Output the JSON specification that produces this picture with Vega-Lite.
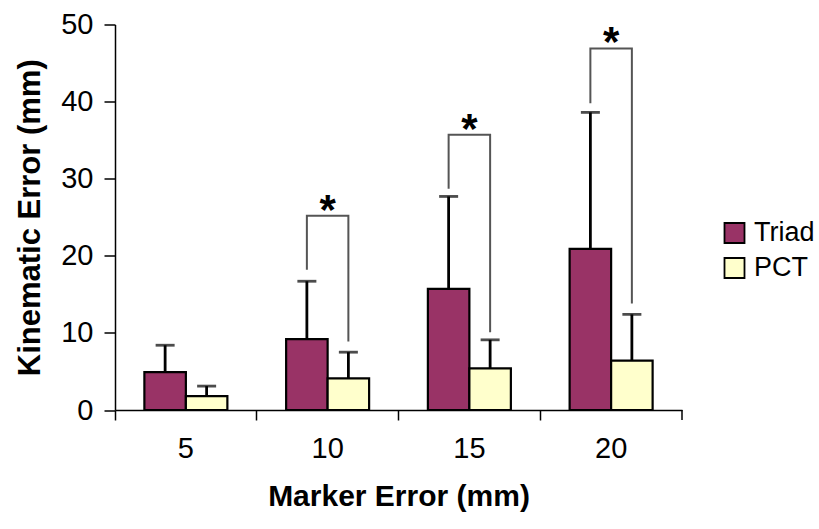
{
  "$schema": "https://vega.github.io/schema/vega-lite/v6.json",
  "width": 567,
  "height": 385.5,
  "autosize": {"type": "none"},
  "padding": {"left": 115, "top": 24.5, "right": 137, "bottom": 119},
  "background": "white",
  "config": {
    "view": {"stroke": null},
    "font": "Liberation Sans",
    "axis": {"grid": false, "domainColor": "black", "tickColor": "black", "domainWidth": 1.5, "tickWidth": 1.5, "labelColor": "black", "titleColor": "black", "labelFont": "Liberation Sans", "titleFont": "Liberation Sans"}
  },
  "datasets": {
    "bars": [
      {"marker": "5", "series": "Triad", "mean": 4.9, "upper": 8.4},
      {"marker": "5", "series": "PCT", "mean": 1.8, "upper": 3.1},
      {"marker": "10", "series": "Triad", "mean": 9.2, "upper": 16.7},
      {"marker": "10", "series": "PCT", "mean": 4.1, "upper": 7.5},
      {"marker": "15", "series": "Triad", "mean": 15.7, "upper": 27.7},
      {"marker": "15", "series": "PCT", "mean": 5.4, "upper": 9.1},
      {"marker": "20", "series": "Triad", "mean": 20.9, "upper": 38.6},
      {"marker": "20", "series": "PCT", "mean": 6.4, "upper": 12.4}
    ],
    "brackets": [
      {"marker": "10", "series": "Triad", "o": 1, "y": 18.2},
      {"marker": "10", "series": "Triad", "o": 2, "y": 25.2},
      {"marker": "10", "series": "PCT", "o": 3, "y": 25.2},
      {"marker": "10", "series": "PCT", "o": 4, "y": 8.9},
      {"marker": "15", "series": "Triad", "o": 1, "y": 28.7},
      {"marker": "15", "series": "Triad", "o": 2, "y": 35.7},
      {"marker": "15", "series": "PCT", "o": 3, "y": 35.7},
      {"marker": "15", "series": "PCT", "o": 4, "y": 10.1},
      {"marker": "20", "series": "Triad", "o": 1, "y": 39.8},
      {"marker": "20", "series": "Triad", "o": 2, "y": 46.9},
      {"marker": "20", "series": "PCT", "o": 3, "y": 46.9},
      {"marker": "20", "series": "PCT", "o": 4, "y": 13.8}
    ],
    "stars": [
      {"marker": "10", "y": 25.2, "label": "*"},
      {"marker": "15", "y": 35.7, "label": "*"},
      {"marker": "20", "y": 46.9, "label": "*"}
    ],
    "endtick": [{"marker": "20", "y0": 0, "y1": -1.3}]
  },
  "encoding": {
    "x": {
      "field": "marker", "type": "nominal", "sort": ["5", "10", "15", "20"],
      "scale": {"paddingInner": 0, "paddingOuter": 0},
      "axis": {"title": "Marker Error (mm)", "labelAngle": 0, "bandPosition": 0, "tickSize": 10, "labelFontSize": 29, "labelPadding": 14, "titleFontSize": 30, "titleFontWeight": "bold", "titlePadding": 18}
    }
  },
  "layer": [
    {
      "data": {"name": "bars"},
      "mark": {"type": "bar", "stroke": "black", "strokeWidth": 2.2},
      "encoding": {
        "xOffset": {"field": "series", "type": "nominal", "sort": ["Triad", "PCT"], "scale": {"paddingOuter": 0.708, "paddingInner": 0}},
        "y": {"field": "mean", "type": "quantitative", "scale": {"domain": [0, 50], "nice": false},
          "axis": {"title": "Kinematic Error (mm)", "values": [0, 10, 20, 30, 40, 50], "tickSize": 11, "labelFontSize": 29, "labelPadding": 11, "titleFontSize": 31, "titleFontWeight": "bold", "titlePadding": 14}},
        "color": {"field": "series", "type": "nominal", "sort": ["Triad", "PCT"],
          "scale": {"domain": ["Triad", "PCT"], "range": ["#993366", "#FFFFCC"]},
          "legend": {"title": null, "orient": "none", "legendX": 606, "legendY": 195, "padding": 0, "symbolType": "square", "symbolSize": 400, "symbolStrokeColor": "black", "symbolStrokeWidth": 1.8, "labelFontSize": 27, "labelFont": "Liberation Sans", "labelColor": "black", "labelOffset": 6, "rowPadding": 6}}
      }
    },
    {
      "data": {"name": "bars"},
      "mark": {"type": "rule", "color": "black", "strokeWidth": 2.8},
      "encoding": {
        "xOffset": {"field": "series", "type": "nominal", "sort": ["Triad", "PCT"]},
        "y": {"field": "mean", "type": "quantitative"},
        "y2": {"field": "upper"}
      }
    },
    {
      "data": {"name": "bars"},
      "mark": {"type": "tick", "color": "black", "size": 19, "thickness": 2.8},
      "encoding": {
        "xOffset": {"field": "series", "type": "nominal", "sort": ["Triad", "PCT"]},
        "y": {"field": "upper", "type": "quantitative"}
      }
    },
    {
      "data": {"name": "brackets"},
      "mark": {"type": "line", "color": "#555555", "strokeWidth": 2},
      "encoding": {
        "xOffset": {"field": "series", "type": "nominal", "sort": ["Triad", "PCT"]},
        "y": {"field": "y", "type": "quantitative"},
        "detail": {"field": "marker"},
        "order": {"field": "o"}
      }
    },
    {
      "data": {"name": "stars"},
      "mark": {"type": "text", "fontSize": 42, "fontWeight": "bold", "color": "black", "baseline": "alphabetic", "dy": 8, "font": "Liberation Sans"},
      "encoding": {
        "x": {"field": "marker", "type": "nominal", "sort": ["5", "10", "15", "20"], "bandPosition": 0.5},
        "y": {"field": "y", "type": "quantitative"},
        "text": {"field": "label"}
      }
    },
    {
      "data": {"name": "endtick"},
      "mark": {"type": "rule", "color": "black", "strokeWidth": 1.5, "clip": false},
      "encoding": {
        "x": {"field": "marker", "type": "nominal", "sort": ["5", "10", "15", "20"], "bandPosition": 1},
        "y": {"field": "y0", "type": "quantitative"},
        "y2": {"field": "y1"}
      }
    }
  ]
}
